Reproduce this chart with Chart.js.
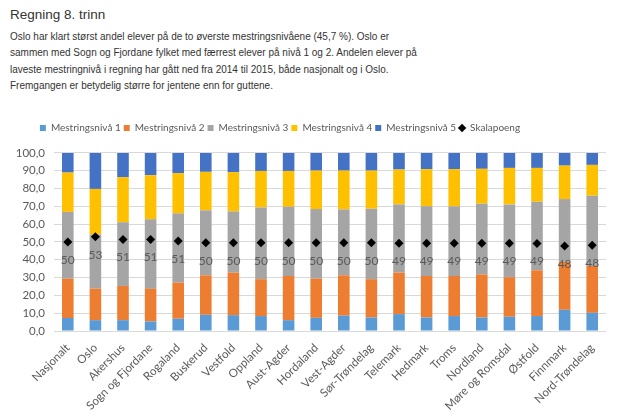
<!DOCTYPE html>
<html><head><meta charset="utf-8">
<script src="https://cdn.jsdelivr.net/npm/chart.js@4.4.0/dist/chart.umd.min.js"></script>
<style>
body{margin:0;width:626px;height:420px;background:#fff;overflow:hidden;position:relative;font-family:"Liberation Sans",Arial,sans-serif}
#title{position:absolute;left:10px;top:6px;font-size:13.5px;color:#333;line-height:18px;white-space:nowrap}
#desc{position:absolute;left:10px;top:29px;font-size:10px;line-height:16.3px;color:#333;white-space:nowrap}
#wrap{position:absolute;left:0;top:110px;width:626px;height:310px}
</style></head><body>
<div id="title">Regning 8. trinn</div>
<div id="desc">Oslo har klart størst andel elever på de to øverste mestringsnivåene (45,7 %). Oslo er<br>sammen med Sogn og Fjordane fylket med færrest elever på nivå 1 og 2. Andelen elever på<br>laveste mestringnivå i regning har gått ned fra 2014 til 2015, både nasjonalt og i Oslo.<br>Fremgangen er betydelig større for jentene enn for guttene.</div>
<div id="wrap"><canvas id="c"></canvas></div>
<script>
const categories = ['Nasjonalt','Oslo','Akershus','Sogn og Fjordane','Rogaland','Buskerud','Vestfold','Oppland','Aust-Agder','Hordaland','Vest-Agder','Sør-Trøndelag','Telemark','Hedmark','Troms','Nordland','Møre og Romsdal','Østfold','Finnmark','Nord-Trøndelag'];
const niva1 = [7.3,6.1,6.1,5.4,6.9,9.1,8.9,8.4,6.1,7.4,8.6,7.6,9.5,7.6,8.4,7.6,8.0,8.4,11.9,10.2];
const niva2 = [22.1,17.7,19.2,18.4,20.3,22.2,23.9,20.7,24.8,22.0,22.7,21.5,23.3,23.3,22.5,24.2,22.2,25.7,27.0,26.3];
const niva3 = [37.5,30.5,35.8,38.9,38.9,36.5,34.4,40.3,38.9,39.1,37.0,39.6,38.3,39.1,39.1,39.7,40.9,38.5,35.2,39.5];
const niva4 = [22.1,25.5,25.3,24.8,22.6,21.6,22.0,20.5,20.1,21.6,21.8,21.4,19.6,20.9,20.9,19.6,20.5,19.0,18.8,17.3];
const niva5 = [11.0,20.2,13.6,12.5,11.3,10.6,10.8,10.1,10.1,9.9,9.9,9.9,9.3,9.1,9.1,8.9,8.4,8.4,7.1,6.7];
const skalapoeng = [50.0,52.9,51.4,51.4,50.6,49.6,49.6,49.6,49.6,49.6,49.6,49.6,49.3,49.3,49.3,49.3,49.3,49.1,47.8,48.2];
const seriesNames = ['Mestringsnivå 1','Mestringsnivå 2','Mestringsnivå 3','Mestringsnivå 4','Mestringsnivå 5','Skalapoeng'];
const colors = ['#5B9BD5','#ED7D31','#A5A5A5','#FFC000','#4472C4','#000000'];

const labelPlugin = {
  id:'skalaLabels',
  afterDatasetsDraw(chart){
    const ctx = chart.ctx;
    const meta = chart.getDatasetMeta(5);
    ctx.save();
    ctx.font = '12px Lato';
    ctx.fillStyle = '#595959';
    ctx.textAlign = 'center';
    ctx.textBaseline = 'middle';
    meta.data.forEach((pt,i)=>{
      ctx.fillText(String(Math.round(skalapoeng[i])), pt.x, pt.y + 18);
    });
    ctx.restore();
  }
};
const legendShift = {
  id:'legendShift',
  afterLayout(chart){
    const l = chart.legend;
    if(l){ l.left -= 23; l.right -= 23; }
  }
};

function draw(){
  const barSets = [niva1,niva2,niva3,niva4,niva5].map((d,i)=>({
    type:'bar', label:seriesNames[i], data:d, backgroundColor:colors[i],
    borderWidth:0, stack:'s', order:1, categoryPercentage:1, barPercentage:0.42
  }));
  const lineSet = {
    type:'line', label:seriesNames[5], data:skalapoeng, showLine:false,
    pointStyle:'rectRot', pointRadius:4.5, pointHoverRadius:4.5, pointBackgroundColor:'#000',
    pointBorderColor:'#000', pointBorderWidth:0, backgroundColor:'#000', borderColor:'#000', order:0
  };
  new Chart(document.getElementById('c'), {
    data:{ labels:categories, datasets:[...barSets, lineSet] },
    options:{
      responsive:true, maintainAspectRatio:false, animation:false,
      layout:{ padding:{ top:10, right:20, left:0, bottom:0 } },
      plugins:{
        tooltip:{enabled:false},
        subtitle:{ display:true, text:'', weight:500, position:'top', font:{size:8.3}, padding:0 },
        legend:{
          position:'top',
          labels:{
            usePointStyle:true, boxWidth:6, boxHeight:6, padding:3,
            color:'#595959', font:{family:'Lato', size:10},
            sort:(a,b)=>a.datasetIndex-b.datasetIndex,
            generateLabels(chart){
              const items = Chart.defaults.plugins.legend.labels.generateLabels(chart);
              items.forEach(it=>{
                const i = it.datasetIndex;
                it.pointStyle = i===5 ? 'rectRot' : 'rect';
                it.fillStyle = colors[i]; it.strokeStyle = colors[i]; it.lineWidth = 0;
              });
              return items;
            }
          }
        }
      },
      scales:{
        x:{
          stacked:true,
          grid:{display:false}, border:{display:false},
          ticks:{ color:'#595959', font:{family:'Lato', size:11.5}, maxRotation:45, minRotation:45, padding:2, autoSkip:false },
          afterFit(s){ s.height = 89; }
        },
        y:{
          stacked:true, min:0, max:100,
          grid:{ color:'#D9D9D9', drawTicks:false }, border:{display:false},
          ticks:{ stepSize:10, color:'#595959', font:{family:'Lato', size:11.5}, padding:9,
            callback:v=>v.toFixed(1).replace('.',',') },
          afterFit(s){ s.width = 54; }
        }
      }
    },
    plugins:[labelPlugin, legendShift]
  });
}
if(document.fonts && document.fonts.load){
  document.fonts.load('12px Lato').then(draw, draw);
} else draw();
</script>
</body></html>
